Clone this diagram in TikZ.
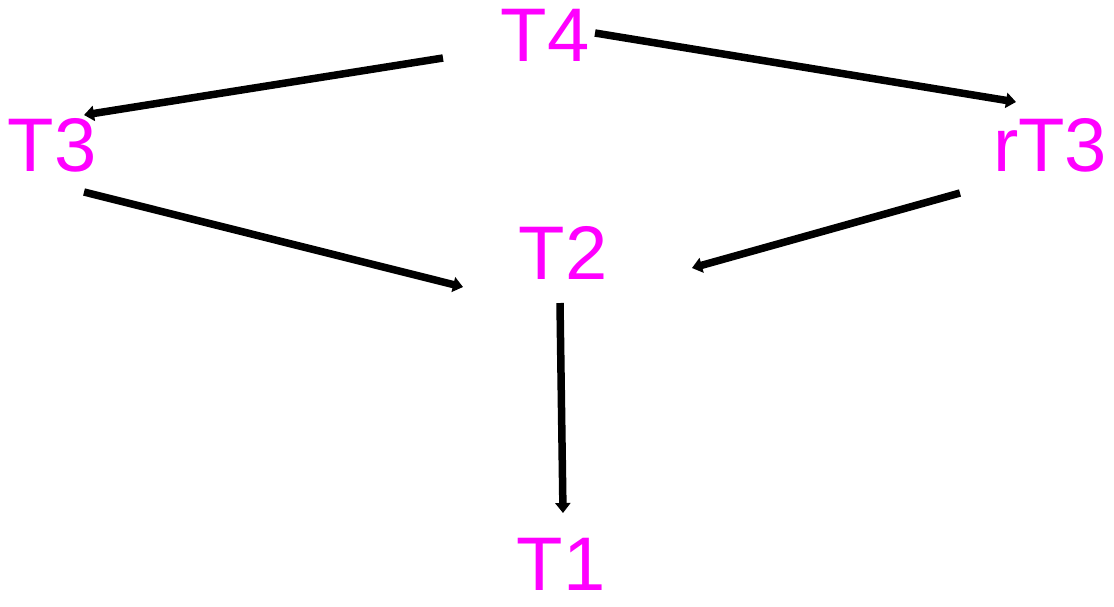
\documentclass[tikz,border=0pt]{standalone}
\usepackage{fontspec}
\setmainfont{Liberation Sans}
\usetikzlibrary{arrows.meta}
\definecolor{lbl}{RGB}{255,0,255}
\begin{document}
\begin{tikzpicture}[x=1pt,y=-1pt,
  lab/.style={text=lbl,font=\fontsize{76}{76}\selectfont,inner sep=0pt},
  edge/.style={draw=black,line width=7.5pt,-{Triangle[length=10pt,width=15pt]}}]
\useasboundingbox (0,0) rectangle (1114,606);
\node[lab] (T4) at (545,35) {T4};
\node[lab] (T3) at (52,145) {T3};
\node[lab] (rT3) at (1050,145) {rT3};
\node[lab] (T2) at (563,253) {T2};
\node[lab] (T1) at (561,564) {T1};
\coordinate (a1) at ([shift={(-102,23)}]T4.center);
\coordinate (a2) at ([shift={(32,-30)}]T3.center);
\coordinate (b1) at ([shift={(50,-2)}]T4.center);
\coordinate (b2) at ([shift={(-34,-43)}]rT3.center);
\coordinate (c1) at ([shift={(32,47)}]T3.center);
\coordinate (c2) at ([shift={(-100,34)}]T2.center);
\coordinate (d1) at ([shift={(-90,48)}]rT3.center);
\coordinate (d2) at ([shift={(129,15)}]T2.center);
\coordinate (e1) at ([shift={(-3,50)}]T2.center);
\coordinate (e2) at ([shift={(2,-51)}]T1.center);
\draw[edge] (a1) -- (a2);
\draw[edge] (b1) -- (b2);
\draw[edge] (c1) -- (c2);
\draw[edge] (d1) -- (d2);
\draw[edge] (e1) -- (e2);
\end{tikzpicture}
\end{document}
